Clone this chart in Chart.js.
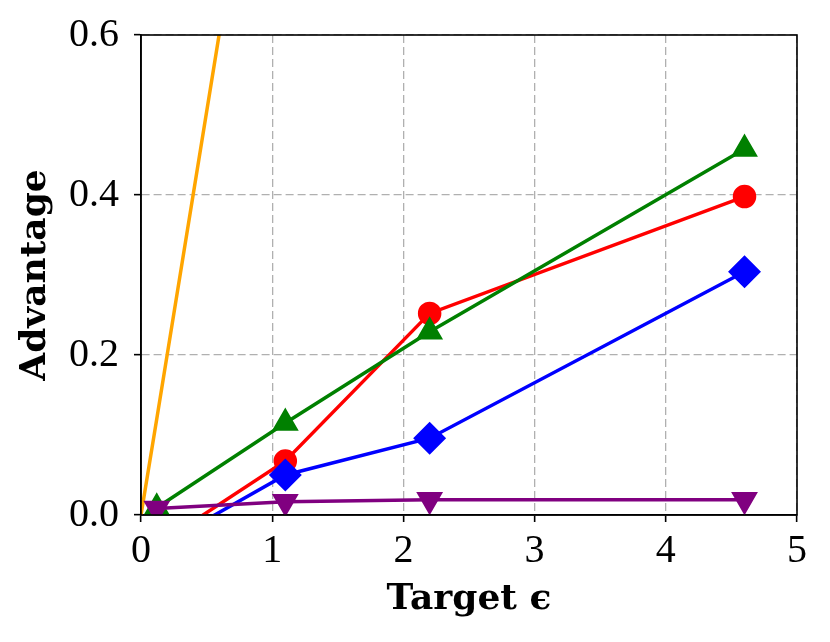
<!DOCTYPE html>
<html>
<head>
<meta charset="utf-8">
<script src="https://cdn.jsdelivr.net/npm/chart.js@4/dist/chart.umd.min.js"></script>
<style>
  body { margin: 0; background: #fff; }
  #wrap { width: 830px; height: 642px; }
</style>
</head>
<body>
<div id="wrap"><canvas id="advchart" width="830" height="642"></canvas></div>
<script>
// values
const epsilons = [0.12, 1.1, 2.2, 4.6];
const redAdv = [-0.038, 0.0675, 0.252, 0.398];
const greenAdv = [0.009, 0.115, 0.229, 0.4575];
const blueAdv = [-0.041, 0.05, 0.096, 0.304];
const purpleAdv = [0.008, 0.0167, 0.019, 0.019];
const orangeEps = [0, 0.12, 1.1];
const orangeAdv = [0, 0.12, 1.11];

const xTickLabels = ['0', '1', '2', '3', '4', '5'];
const yTickLabels = ['0.0', '0.2', '0.4', '0.6'];

function pts(xs, ys) {
    return xs.map((x, i) => ({ x: x, y: ys[i] }));
}

// black box round the plot area, like the matplotlib spines
const frame = {
    id: 'frame',
    afterDatasetsDraw(chart) {
        const a = chart.chartArea;
        const c = chart.ctx;
        c.save();
        c.strokeStyle = '#000';
        c.lineWidth = 1.6;
        c.strokeRect(a.left, a.top, a.right - a.left, a.bottom - a.top);
        c.restore();
    }
};

document.addEventListener("DOMContentLoaded", function() {
    const ctx = document.getElementById('advchart');
    const serif = '"Liberation Serif", "DejaVu Serif", serif';
    const titleFont = { family: '"DejaVu Serif", serif', size: 36, weight: 'bold' };

    new Chart(ctx, {
        type: 'line',
        data: {
            datasets: [
                {
                    label: 'red',
                    data: pts(epsilons, redAdv),
                    borderColor: '#ff0000',
                    backgroundColor: '#ff0000',
                    borderWidth: 3.5,
                    pointStyle: 'circle',
                    pointRadius: 10,
                    order: 3
                },
                {
                    label: 'green',
                    data: pts(epsilons, greenAdv),
                    borderColor: '#008000',
                    backgroundColor: '#008000',
                    borderWidth: 3.5,
                    pointStyle: 'triangle',
                    pointRadius: 12,
                    order: 2
                },
                {
                    label: 'blue',
                    data: pts(epsilons, blueAdv),
                    borderColor: '#0000ff',
                    backgroundColor: '#0000ff',
                    borderWidth: 3.5,
                    pointStyle: 'rectRot',
                    pointRadius: 14,
                    order: 1
                },
                {
                    label: 'purple',
                    data: pts(epsilons, purpleAdv),
                    borderColor: '#800080',
                    backgroundColor: '#800080',
                    borderWidth: 3.5,
                    pointStyle: 'triangle',
                    pointRotation: 180,
                    pointRadius: 12,
                    order: 0
                },
                {
                    label: 'orange',
                    data: pts(orangeEps, orangeAdv),
                    borderColor: '#ffa500',
                    backgroundColor: '#ffa500',
                    borderWidth: 3.5,
                    pointRadius: 0,
                    order: 4
                }
            ]
        },
        options: {
            responsive: false,
            animation: false,
            events: [],
            elements: {
                line: { tension: 0 },
                point: { borderWidth: 1, hoverRadius: 0 }
            },
            layout: {
                padding: { top: 35, right: 33, left: 0, bottom: 0 }
            },
            plugins: {
                legend: { display: false },
                tooltip: { enabled: false }
            },
            scales: {
                x: {
                    type: 'linear',
                    min: 0,
                    max: 5,
                    afterFit: function(s) { s.height = 127; },
                    ticks: {
                        stepSize: 1,
                        padding: 5,
                        color: '#000',
                        font: { family: serif, size: 40 },
                        callback: (v, i) => xTickLabels[i]
                    },
                    grid: {
                        color: '#b0b0b0',
                        lineWidth: 1.3,
                        tickLength: 7,
                        tickColor: '#000',
                        tickWidth: 1.6
                    },
                    border: { color: '#000', width: 1.6, dash: [8, 4] },
                    title: {
                        display: true,
                        text: 'Target ϵ',
                        color: '#000',
                        font: titleFont,
                        padding: { top: 0, bottom: 21 }
                    }
                },
                y: {
                    min: 0,
                    max: 0.6,
                    afterFit: function(s) {
                        s.width = 141;
                        s.paddingTop = 0;
                        s.paddingBottom = 0;
                    },
                    ticks: {
                        stepSize: 0.2,
                        padding: 15,
                        color: '#000',
                        font: { family: serif, size: 40 },
                        callback: (v, i) => yTickLabels[i]
                    },
                    grid: {
                        color: '#b0b0b0',
                        lineWidth: 1.3,
                        tickLength: 7,
                        tickColor: '#000',
                        tickWidth: 1.6
                    },
                    border: { color: '#000', width: 1.6, dash: [8, 4] },
                    title: {
                        display: true,
                        text: 'Advantage',
                        color: '#000',
                        font: titleFont,
                        padding: { top: 14, bottom: 0 }
                    }
                }
            }
        },
        plugins: [frame]
    });
});
</script>
</body>
</html>
